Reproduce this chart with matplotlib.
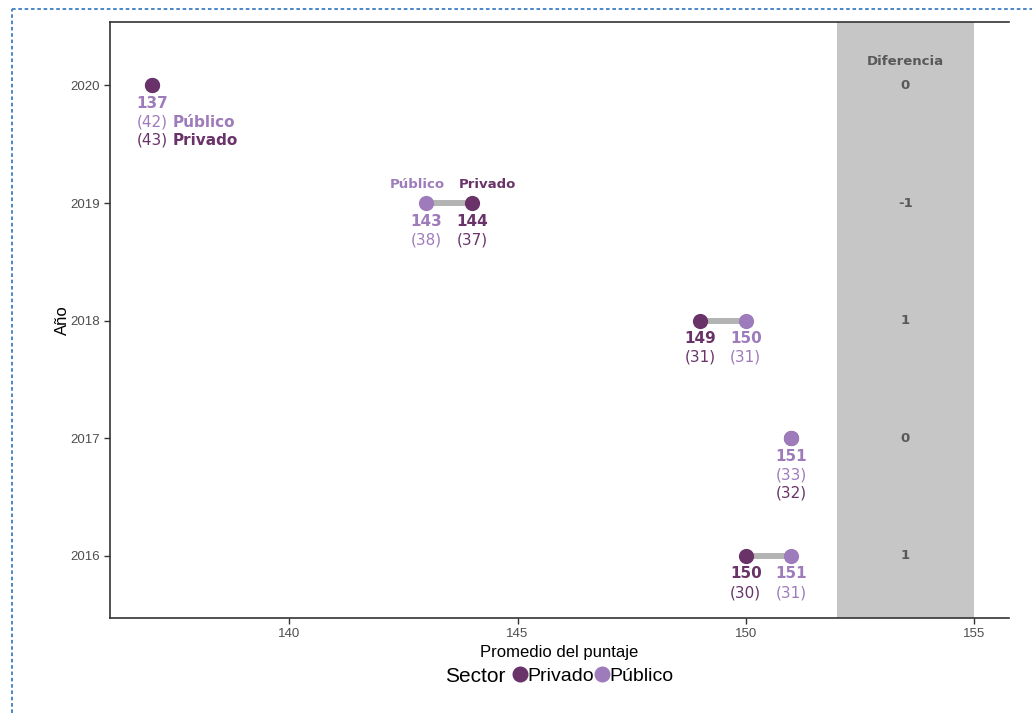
import numpy as np
import matplotlib
matplotlib.use("Agg")
import matplotlib.pyplot as plt
from matplotlib.lines import Line2D

# ─────────────────────────────── data ───────────────────────────────────────
anios = [2016, 2017, 2018, 2019, 2020]
privado = [150, 151, 149, 144, 137]
publico = [151, 151, 150, 143, 137]
se_privado = [30, 32, 31, 37, 43]
se_publico = [31, 33, 31, 38, 42]
diferencia = [1, 0, 1, -1, 0]
encima = ["Privado", "Público", "Privado", "Privado", "Privado"]  # dot drawn on top when tied

C_PRIV = "#693369"
C_PUB = "#9e7bbb"
C_GRIS = "#595959"

plt.rcParams["font.family"] = ["Liberation Sans", "DejaVu Sans"]

fig = plt.figure(figsize=(10.32, 7.13), dpi=100)
ax = fig.add_axes([110 / 1032, 1 - 618 / 713, (1009 - 110) / 1032, (618 - 22) / 713])

ax.set_xlim(136.07, 155.77)
ax.set_ylim(2015.47, 2020.54)

# gray band for the differences column
ax.axvspan(152, 155, color="#c6c6c6", lw=0, zorder=0)
ax.text(153.5, 2020.2, "Diferencia", ha="center", va="center", fontsize=9.5,
        fontweight="bold", color=C_GRIS, family="DejaVu Sans")
for y, d in zip(anios, diferencia):
    ax.text(153.5, y, f"{d}", ha="center", va="center", fontsize=9.5,
            fontweight="bold", color=C_GRIS, family="DejaVu Sans")

lab = dict(textcoords="offset points", ha="center", va="center", family="DejaVu Sans")
FS = 11

for y, xp, xq, sp, sq, top in zip(anios, privado, publico, se_privado, se_publico, encima):
    ax.plot([xp, xq], [y, y], color="#b3b3b3", lw=4.3, zorder=2, solid_capstyle="butt")
    zp, zq = (4, 3) if top == "Privado" else (3, 4)
    ax.scatter([xp], [y], s=120, color=C_PRIV, zorder=zp, lw=0)
    ax.scatter([xq], [y], s=120, color=C_PUB, zorder=zq, lw=0)

    if xp == xq:
        ax.annotate(f"{xq}", (xq, y), xytext=(0, -13), fontsize=FS,
                    fontweight="bold", color=C_PUB, **lab)
        ax.annotate(f"({sq})", (xq, y), xytext=(0, -26.5), fontsize=FS,
                    color=C_PUB, **lab)
        ax.annotate(f"({sp})", (xp, y), xytext=(0, -39.5), fontsize=FS,
                    color=C_PRIV, **lab)
        if y == 2020:
            ax.annotate("Público", (xq, y), xytext=(14.5, -26.5), fontsize=FS,
                        fontweight="bold", color=C_PUB, textcoords="offset points",
                        ha="left", va="center", family="DejaVu Sans")
            ax.annotate("Privado", (xp, y), xytext=(14.5, -39.5), fontsize=FS,
                        fontweight="bold", color=C_PRIV, textcoords="offset points",
                        ha="left", va="center", family="DejaVu Sans")
    else:
        for xv, se, c in [(xp, sp, C_PRIV), (xq, sq, C_PUB)]:
            ax.annotate(f"{xv}", (xv, y), xytext=(0, -13), fontsize=FS,
                        fontweight="bold", color=c, **lab)
            ax.annotate(f"({se})", (xv, y), xytext=(0, -26.5), fontsize=FS,
                        color=c, **lab)
        if y == 2019:
            ax.annotate("Privado", (xp, y), xytext=(11.5, 13), fontsize=9.5,
                        fontweight="bold", color=C_PRIV, **lab)
            ax.annotate("Público", (xq, y), xytext=(-6.5, 13), fontsize=9.5,
                        fontweight="bold", color=C_PUB, **lab)

# axes styling
ax.set_xticks([140, 145, 150, 155])
ax.set_yticks(anios)
ax.tick_params(axis="both", labelsize=9.5, labelcolor="#4d4d4d", color="#333333",
               length=4, width=1)
for s in ["left", "bottom", "top"]:
    ax.spines[s].set_color("#333333")
    ax.spines[s].set_linewidth(1.2)
ax.spines["right"].set_visible(False)
ax.set_xlabel("Promedio del puntaje", fontsize=12, labelpad=3)
ax.set_ylabel("Año", fontsize=12, labelpad=0)

# legend
fig.text(505 / 1032, 1 - 676 / 713, "Sector", ha="right", va="center", fontsize=15)
handles = [Line2D([], [], marker="o", ls="", color=C_PRIV, markersize=10.5),
           Line2D([], [], marker="o", ls="", color=C_PUB, markersize=10.5)]
fig.legend(handles, ["Privado", "Público"], ncol=2, loc="center left",
           bbox_to_anchor=(510 / 1032, 1 - 676 / 713), frameon=False, fontsize=14,
           handletextpad=-0.12, columnspacing=-0.1, handlelength=1.0, borderaxespad=0,
           borderpad=0)

# dashed outer border
border = dict(color="#3d7fc4", lw=1.3, ls=(0, (2, 1.5)), transform=fig.transFigure)
fig.add_artist(Line2D([12 / 1032, 1.0], [1 - 9 / 713] * 2, **border))
fig.add_artist(Line2D([12 / 1032] * 2, [0.0, 1 - 9 / 713], **border))

fig.savefig("out.png", dpi=100)
